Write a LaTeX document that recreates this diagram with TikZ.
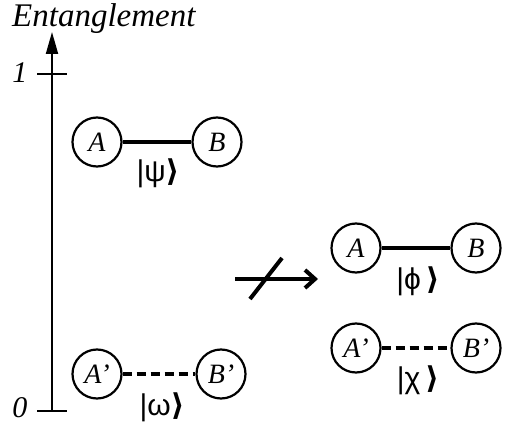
\documentclass[tikz,border=0pt]{standalone}
\usepackage{fontspec}
\setmainfont{Liberation Serif}
\newfontfamily\ketfont{DejaVu Sans}
\newfontfamily\grk{Liberation Sans}
\usetikzlibrary{arrows.meta}
\begin{document}
\begin{tikzpicture}[x=1pt,y=-1pt,
  party/.style={circle,draw,line width=2.2pt,minimum size=49pt,inner sep=0pt,font=\fontsize{28}{30}\selectfont\itshape},
  lbl/.style={font=\fontsize{30}{32}\selectfont\itshape,inner sep=0pt},
  ket/.style={font=\fontsize{30}{32}\selectfont\grk,inner sep=0pt},
  bond/.style={line width=3.5pt},
  weak/.style={line width=3.5pt,dash pattern=on 9pt off 5pt}]
\useasboundingbox (0,0) rectangle (505,427);
% axis
\coordinate (o) at (52,411);
\coordinate (top) at (52,32);
\coordinate (t1l) at (37,74);
\coordinate (t1r) at (67,74);
\coordinate (t0l) at (37,411);
\coordinate (t0r) at (67,411);
\draw[line width=2pt,-{Triangle[length=22pt,width=12pt]}] (o) -- (top);
\draw[line width=2pt] (t1l) -- (t1r);
\draw[line width=2pt] (t0l) -- (t0r);
\node[lbl,anchor=base west,font=\fontsize{33}{35}\selectfont\itshape] (ent) at (12,27) {Entanglement};
\node[lbl] (one) at (20,73) {1};
\node[lbl] (zero) at (20,408) {0};
% top pair
\node[party] (A1) at (97,142) {A};
\node[party] (B1) at (217,142) {B};
\draw[bond] (A1) -- (B1);
\node[ket] (psi) at (158,173) {|ψ{\ketfont\bfseries ⟩}};
% bottom pair
\node[party] (A2) at (97,374) {A’};
\node[party] (B2) at (221,374) {B’};
\draw[weak] (A2) -- (B2);
\node[ket] (om) at (162,407) {|ω{\ketfont\bfseries ⟩}};
% right pairs
\node[party] (A3) at (356,248) {A};
\node[party] (B3) at (476,248) {B};
\draw[bond] (A3) -- (B3);
\node[ket] (phi) at (418,281) {|ϕ\,{\ketfont\bfseries ⟩}};
\node[party] (A4) at (356,348) {A’};
\node[party] (B4) at (476,348) {B’};
\draw[weak] (A4) -- (B4);
\node[ket] (chi) at (418,380) {|χ\,{\ketfont\bfseries ⟩}};
% arrow with slash
\coordinate (as) at (235,279);
\coordinate (ae) at (318,279);
\coordinate (s1) at (250,299);
\coordinate (s2) at (282,258);
\draw[line width=4pt,-{Straight Barb[length=10pt,width=18pt,line width=4pt]}] (as) -- (ae);
\draw[line width=4pt] (s1) -- (s2);
\end{tikzpicture}
\end{document}
